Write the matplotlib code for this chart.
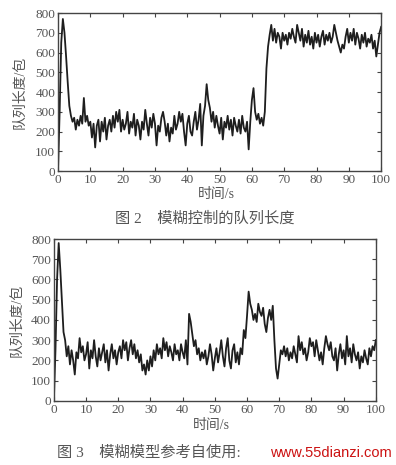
import numpy as np
import matplotlib
matplotlib.use('Agg')
import matplotlib.pyplot as plt

plt.rcParams['font.family'] = ['Liberation Serif', 'Noto Sans CJK SC', 'DejaVu Sans']

# queue length (packets), sampled every 0.5 s from 0 to 100 s
Q_FUZZY = [
    0, 300, 650, 770, 700, 580, 450, 330, 280, 250,
    270, 210, 260, 230, 280, 240, 370, 250, 280, 230,
    250, 170, 240, 120, 230, 260, 150, 250, 200, 270,
    160, 230, 260, 200, 280, 220, 300, 250, 310, 200,
    260, 210, 240, 300, 190, 250, 220, 290, 180, 260,
    230, 160, 250, 210, 310, 240, 180, 270, 220, 290,
    240, 130, 230, 200, 270, 300, 250, 180, 240, 150,
    220, 190, 280, 210, 240, 300, 250, 290, 200, 130,
    240, 280, 200, 180, 250, 300, 210, 260, 340, 130,
    280, 330, 440, 360, 320, 250, 300, 220, 280, 230,
    190, 270, 160, 250, 220, 280, 210, 260, 180, 270,
    230, 200, 260, 190, 280, 220, 200, 250, 110, 250,
    360, 420, 300, 260, 290, 240, 270, 230, 300, 520,
    630, 690, 740, 660, 720, 650, 700, 680, 620, 700,
    660, 690, 640, 700, 670, 720, 680, 650, 740, 700,
    660, 720, 630, 690, 650, 710, 640, 680, 620, 700,
    650, 690, 630, 680, 710, 640, 690, 660, 700, 650,
    680, 740, 700, 660, 630, 600, 640, 620, 680, 720,
    650, 700, 660, 720, 640, 700, 670, 620, 690, 650,
    700, 630, 670, 650, 690, 620, 660, 580, 640, 700,
    730,
]

Q_REF = [
    0, 250, 600, 780, 650, 500, 340, 300, 220, 270,
    180, 250, 200, 130, 240, 210, 310, 240, 270, 200,
    230, 290, 160, 250, 210, 300, 220, 170, 260, 200,
    240, 280, 190, 250, 150, 230, 280, 210, 250, 180,
    240, 270, 210, 300, 250, 290, 200, 260, 300, 230,
    280, 210, 250, 190, 230, 150, 180, 130, 200, 150,
    220, 170, 250, 200, 280, 230, 260, 210, 310, 250,
    290, 220, 270, 240, 200, 280, 230, 250, 200, 280,
    240, 210, 300, 180, 430, 390, 330, 270, 300, 230,
    260, 200, 240, 210, 250, 180, 220, 280, 230, 150,
    210, 260, 190, 240, 300, 220, 170, 260, 310, 200,
    160, 250, 280, 190, 240, 180, 260, 230, 350, 310,
    420, 540, 480, 450, 400, 430, 390, 480, 440, 420,
    460, 380, 340, 410, 450, 400, 470, 300, 160, 110,
    180, 250, 230, 270, 220, 260, 200, 240, 210, 270,
    230, 190, 320, 250, 290, 230, 260, 200, 240, 310,
    270, 290, 220, 300, 250, 200, 240, 180, 260, 320,
    280, 250, 290, 220, 200, 260, 150, 230, 280, 210,
    250, 180, 320, 220, 260, 190, 280, 230, 200, 240,
    160, 220, 190, 250, 210, 180, 260, 220, 270, 250,
    300,
]

X_TICKS = [0, 10, 20, 30, 40, 50, 60, 70, 80, 90, 100]
Y_TICKS = [0, 100, 200, 300, 400, 500, 600, 700, 800]

TEXT_C = '#555555'
LINE_C = '#1e1e1e'


def draw_panel(ax, q, ylab_x, xlab_y):
    t = np.linspace(0, 100, len(q))
    ax.plot(t, q, color=LINE_C, lw=1.3)
    ax.set_xlim(0, 100)
    ax.set_ylim(0, 800)
    ax.set_xticks(X_TICKS)
    ax.set_yticks(Y_TICKS)
    ax.tick_params(direction='in', top=True, right=True, length=3,
                   width=0.8, colors='#444444', labelcolor=TEXT_C,
                   labelsize=9.5, pad=2)
    for s in ax.spines.values():
        s.set_color('#444444')
        s.set_linewidth(1.0)
    ax.set_xlabel('时间/s', fontsize=10, color=TEXT_C)
    ax.set_ylabel('队列长度/包', fontsize=10, color=TEXT_C)
    ax.yaxis.set_label_coords(ylab_x, 0.5)
    ax.xaxis.set_label_coords(0.49, xlab_y)


fig = plt.figure(figsize=(3.96, 4.65), dpi=100)
ax1 = fig.add_axes([0.1465, 0.632, 0.816, 0.340])
ax2 = fig.add_axes([0.136, 0.138, 0.813, 0.348])
draw_panel(ax1, Q_FUZZY, -0.097, -0.105)
draw_panel(ax2, Q_REF, -0.094, -0.115)

fig.text(0.29, 1 - 219 / 465, '图 2    模糊控制的队列长度', ha='left', va='center',
         fontsize=11, color=TEXT_C)
fig.text(0.144, 1 - 453 / 465, '图 3    模糊模型参考自使用:', ha='left', va='center',
         fontsize=11, color=TEXT_C)
fig.text(0.99, 1 - 453 / 465, 'www.55dianzi.com', ha='right', va='center',
         fontsize=10.5, color='#cc1111', family='Liberation Sans')

fig.savefig('out.png', dpi=100, facecolor='white')
